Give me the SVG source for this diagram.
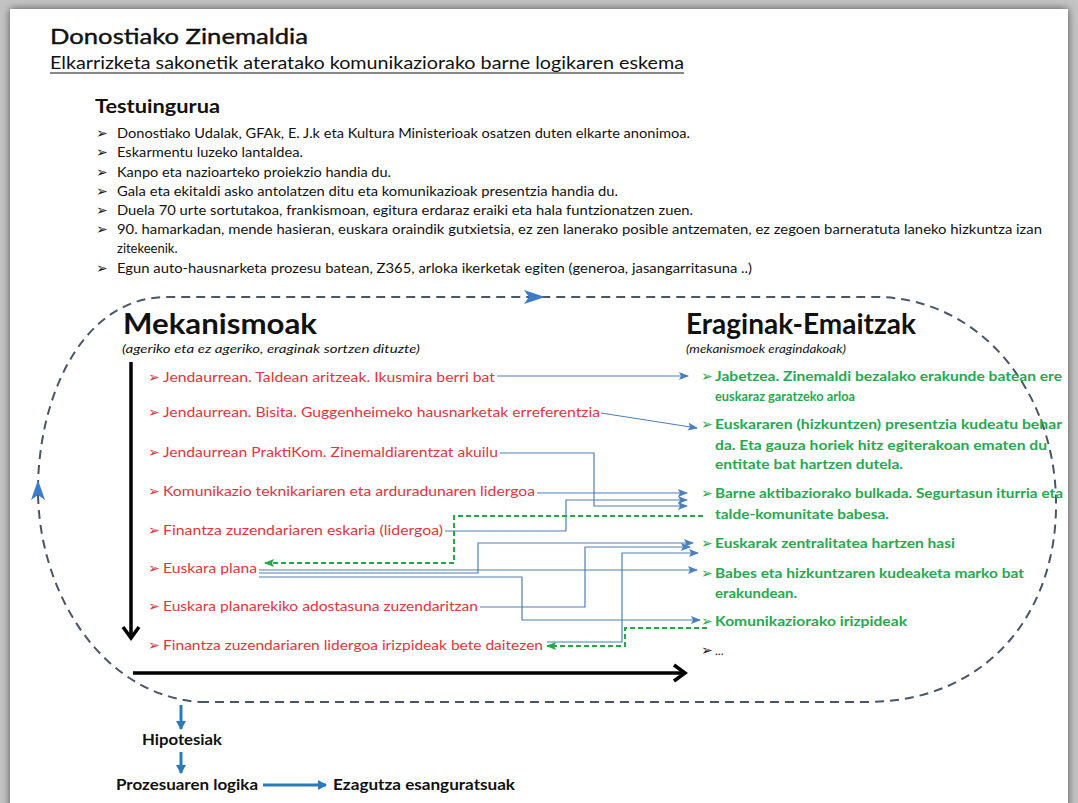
<svg xmlns="http://www.w3.org/2000/svg" width="1078" height="803" viewBox="0 0 1078 803">
<style>
.t{font-family:Lato,"Liberation Sans",sans-serif;fill:#111}
.b{font-weight:bold}
.bul{font-family:"DejaVu Sans",sans-serif;font-size:14px;fill:#222}
.red{font-family:Lato,"Liberation Sans",sans-serif;font-size:13.5px;fill:#e0363c}
.grn{font-family:Lato,"Liberation Sans",sans-serif;font-size:13px;font-weight:bold;fill:#27a84f}
.ra{font-family:"DejaVu Sans",sans-serif;font-size:14px;fill:#e0363c}
.ga{font-family:"DejaVu Sans",sans-serif;font-size:14px;fill:#27a84f}
.con{fill:none;stroke:#4f7fb5;stroke-width:1.2;marker-end:url(#ab)}
.gd{fill:none;stroke:#24a84a;stroke-width:2;stroke-dasharray:5 3;marker-end:url(#ag)}
.bk{fill:none;stroke:#000;stroke-width:3.5}
.bl{fill:none;stroke:#2a7bbd;stroke-width:3;marker-end:url(#abl)}
</style>
<defs>
<filter id="sh" x="-5%" y="-5%" width="110%" height="110%"><feDropShadow dx="0" dy="0" stdDeviation="4" flood-color="#505050"/></filter>
<marker id="ab" markerUnits="userSpaceOnUse" markerWidth="10" markerHeight="8" refX="9" refY="4" orient="auto"><path d="M0,0 L10,4 L0,8 L2,4 z" fill="#4a7fc0"/></marker>
<marker id="ag" markerUnits="userSpaceOnUse" markerWidth="10" markerHeight="8" refX="9" refY="4" orient="auto"><path d="M0,0 L10,4 L0,8 L2,4 z" fill="#24a84a"/></marker>
<marker id="abl" markerUnits="userSpaceOnUse" markerWidth="10" markerHeight="10" refX="8" refY="5" orient="auto"><path d="M0,0 L9,5 L0,10 z" fill="#2a7bbd"/></marker>
</defs>
<rect width="1078" height="803" fill="#c4c4c4"/>
<rect x="10" y="9" width="1058" height="820" fill="#fff" filter="url(#sh)"/>

<g id="header">
<text class="t" x="50" y="44" font-size="22" stroke="#111" stroke-width="0.4" textLength="258" lengthAdjust="spacingAndGlyphs">Donostiako Zinemaldia</text>
<text class="t" x="50" y="69" font-size="17" textLength="634" lengthAdjust="spacingAndGlyphs">Elkarrizketa sakonetik ateratako komunikaziorako barne logikaren eskema</text>
<line x1="50" y1="73" x2="684" y2="73" stroke="#111" stroke-width="1"/>
</g>

<g id="testuingurua">
<text class="t b" x="95" y="113" font-size="19" textLength="125" lengthAdjust="spacingAndGlyphs">Testuingurua</text>
<text class="bul" x="96" y="138">➢</text><text class="t" x="117" y="138" font-size="13" textLength="573" lengthAdjust="spacingAndGlyphs">Donostiako Udalak, GFAk, E. J.k eta Kultura Ministerioak osatzen duten elkarte anonimoa.</text>
<text class="bul" x="96" y="157">➢</text><text class="t" x="117" y="157" font-size="13" textLength="186" lengthAdjust="spacingAndGlyphs">Eskarmentu luzeko lantaldea.</text>
<text class="bul" x="96" y="177">➢</text><text class="t" x="117" y="177" font-size="13" textLength="274" lengthAdjust="spacingAndGlyphs">Kanpo eta nazioarteko proiekzio handia du.</text>
<text class="bul" x="96" y="196">➢</text><text class="t" x="117" y="196" font-size="13" textLength="501" lengthAdjust="spacingAndGlyphs">Gala eta ekitaldi asko antolatzen ditu eta komunikazioak presentzia handia du.</text>
<text class="bul" x="96" y="215">➢</text><text class="t" x="117" y="215" font-size="13" textLength="576" lengthAdjust="spacingAndGlyphs">Duela 70 urte sortutakoa, frankismoan,  egitura erdaraz eraiki eta hala funtzionatzen zuen.</text>
<text class="bul" x="96" y="234">➢</text><text class="t" x="117" y="234" font-size="13" textLength="925" lengthAdjust="spacingAndGlyphs">90. hamarkadan, mende hasieran, euskara oraindik gutxietsia, ez zen lanerako posible  antzematen, ez zegoen barneratuta laneko hizkuntza izan</text>
<text class="t" x="117" y="253" font-size="13">zitekeenik.</text>
<text class="bul" x="96" y="273">➢</text><text class="t" x="117" y="273" font-size="13" textLength="635" lengthAdjust="spacingAndGlyphs">Egun auto-hausnarketa prozesu batean, Z365, arloka ikerketak egiten (generoa, jasangarritasuna ..)</text>
</g>

<g id="cycle">
<path d="M200,702 L870,702 C990,700 1058,610 1056,500 C1054,390 980,300 880,297 L165,297 C80,299 38,400 38,490 C38,590 100,695 200,702 Z" fill="none" stroke="#4a5568" stroke-width="2" stroke-dasharray="9 6"/>
<path d="M524,290 L545,297 L524,304 L529,297 z" fill="#3c7cc8"/>
<path d="M31,500 L38,480 L45,500 L38,495 z" fill="#3c7cc8"/>
</g>

<g id="mekanismoak">
<text class="t b" x="123" y="334" font-size="29" textLength="194" lengthAdjust="spacingAndGlyphs">Mekanismoak</text>
<text class="t" x="122" y="353" font-size="11.5" font-style="italic" textLength="298" lengthAdjust="spacingAndGlyphs">(ageriko eta ez ageriko, eraginak sortzen dituzte)</text>
</g>
<g id="eraginak">
<text class="t b" x="686" y="334" font-size="29" textLength="230" lengthAdjust="spacingAndGlyphs">Eraginak-Emaitzak</text>
<text class="t" x="686" y="353" font-size="11.5" font-style="italic" textLength="160" lengthAdjust="spacingAndGlyphs">(mekanismoek eragindakoak)</text>
</g>

<g id="axes">
<line class="bk" x1="131" y1="362" x2="131" y2="637"/>
<polyline class="bk" points="123,627 131,638 139,627"/>
<line class="bk" x1="133" y1="673" x2="684" y2="673"/>
<polyline class="bk" points="674,665 685,673 674,681"/>
</g>

<g id="m1"><text class="ra" x="148" y="382">➢</text><text class="red" x="163" y="382" textLength="332" lengthAdjust="spacingAndGlyphs">Jendaurrean. Taldean aritzeak. Ikusmira berri bat</text></g>
<g id="m2"><text class="ra" x="148" y="417">➢</text><text class="red" x="163" y="417" textLength="437" lengthAdjust="spacingAndGlyphs">Jendaurrean. Bisita. Guggenheimeko hausnarketak erreferentzia</text></g>
<g id="m3"><text class="ra" x="148" y="457">➢</text><text class="red" x="163" y="457" textLength="335" lengthAdjust="spacingAndGlyphs">Jendaurrean PraktiKom. Zinemaldiarentzat akuilu</text></g>
<g id="m4"><text class="ra" x="148" y="496">➢</text><text class="red" x="163" y="496" textLength="372" lengthAdjust="spacingAndGlyphs">Komunikazio teknikariaren eta arduradunaren lidergoa</text></g>
<g id="m5"><text class="ra" x="148" y="535">➢</text><text class="red" x="163" y="535" textLength="280" lengthAdjust="spacingAndGlyphs">Finantza zuzendariaren eskaria (lidergoa)</text></g>
<g id="m6"><text class="ra" x="148" y="573">➢</text><text class="red" x="163" y="573" textLength="94" lengthAdjust="spacingAndGlyphs">Euskara plana</text></g>
<g id="m7"><text class="ra" x="148" y="611">➢</text><text class="red" x="163" y="611" textLength="315" lengthAdjust="spacingAndGlyphs">Euskara planarekiko adostasuna zuzendaritzan</text></g>
<g id="m8"><text class="ra" x="148" y="650">➢</text><text class="red" x="163" y="650" textLength="380" lengthAdjust="spacingAndGlyphs">Finantza zuzendariaren lidergoa irizpideak bete daitezen</text></g>

<g id="e1"><text class="ga" x="701" y="381">➢</text><text class="grn" x="715" y="381" textLength="347" lengthAdjust="spacingAndGlyphs">Jabetzea. Zinemaldi bezalako erakunde batean ere</text><text class="grn" x="715" y="401" textLength="140" lengthAdjust="spacingAndGlyphs">euskaraz garatzeko arloa</text></g>
<g id="e2"><text class="ga" x="701" y="429">➢</text><text class="grn" x="715" y="429" textLength="347" lengthAdjust="spacingAndGlyphs">Euskararen (hizkuntzen) presentzia kudeatu behar</text><text class="grn" x="715" y="450" textLength="332" lengthAdjust="spacingAndGlyphs">da. Eta gauza horiek hitz egiterakoan ematen du</text><text class="grn" x="715" y="469" textLength="188" lengthAdjust="spacingAndGlyphs">entitate bat hartzen dutela.</text></g>
<g id="e3"><text class="ga" x="701" y="498">➢</text><text class="grn" x="715" y="498" textLength="348" lengthAdjust="spacingAndGlyphs">Barne aktibaziorako bulkada. Segurtasun iturria eta</text><text class="grn" x="715" y="519" textLength="174" lengthAdjust="spacingAndGlyphs">talde-komunitate babesa.</text></g>
<g id="e4"><text class="ga" x="701" y="548">➢</text><text class="grn" x="715" y="548" textLength="240" lengthAdjust="spacingAndGlyphs">Euskarak zentralitatea hartzen hasi</text></g>
<g id="e5"><text class="ga" x="701" y="578">➢</text><text class="grn" x="715" y="578" textLength="309" lengthAdjust="spacingAndGlyphs">Babes eta hizkuntzaren kudeaketa marko bat</text><text class="grn" x="715" y="598" textLength="82" lengthAdjust="spacingAndGlyphs">erakundean.</text></g>
<g id="e6"><text class="ga" x="701" y="626">➢</text><text class="grn" x="715" y="626" textLength="192" lengthAdjust="spacingAndGlyphs">Komunikaziorako irizpideak</text></g>
<g id="e7"><text class="bul" x="701" y="655" fill="#000">➢</text><text class="t" x="715" y="655" font-size="12">...</text></g>

<g id="connectors">
<path class="con" d="M497,376 H688"/>
<path class="con" d="M601,413 L697,428"/>
<path class="con" d="M500,453 H594 V506 H687"/>
<path class="con" d="M537,493 H687"/>
<path class="con" d="M445,531 H566 V500 H687"/>
<path class="con" d="M259,570 H697"/>
<path class="con" d="M259,573 H478 V543 H693"/>
<path class="con" d="M259,577 H522 V620 H700"/>
<path class="con" d="M480,607 H585 V547 H690"/>
<path class="con" d="M547,642 H622 V553 H698"/>
<path class="gd" d="M703,516 H454 V563 H265"/>
<path class="gd" d="M707,628 H625 V646 H547"/>
</g>

<g id="bottom">
<path class="bl" d="M181,705 V729"/>
<text class="t b" x="142" y="745" font-size="15" textLength="80" lengthAdjust="spacingAndGlyphs">Hipotesiak</text>
<path class="bl" d="M181,752 V773"/>
<text class="t b" x="116" y="790" font-size="15" textLength="142" lengthAdjust="spacingAndGlyphs">Prozesuaren logika</text>
<path class="bl" d="M263,785 H326"/>
<text class="t b" x="333" y="790" font-size="15" textLength="182" lengthAdjust="spacingAndGlyphs">Ezagutza esanguratsuak</text>
</g>
</svg>
